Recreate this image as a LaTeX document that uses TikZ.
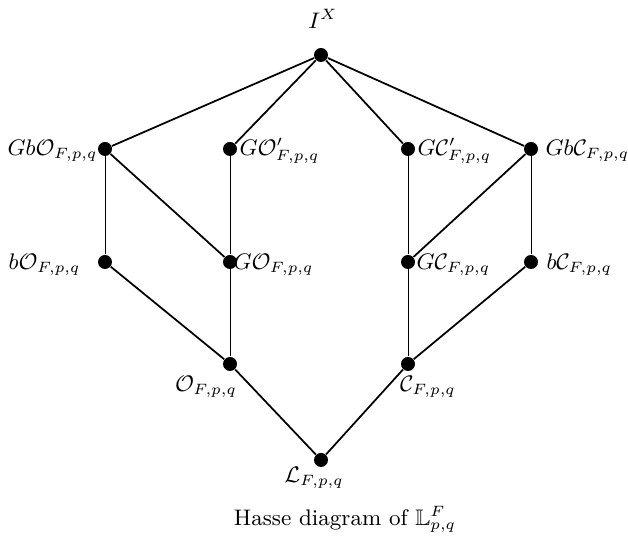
\documentclass[tikz,border=0pt]{standalone}
\usepackage{amssymb}
\begin{document}
\begin{tikzpicture}[x=0.4pt,y=-0.4pt,
  dot/.style={circle,fill=black,inner sep=0pt,minimum size=5.6pt},
  thk/.style={line width=0.7pt},
  thn/.style={line width=0.35pt},
  lab/.style={inner sep=0pt,font=\fontsize{9}{11}\selectfont}]
\useasboundingbox (0,0) rectangle (628,537);
\node[dot] (I) at (321,55) {};
\node[dot] (GbO) at (105,149) {};
\node[dot] (GOp) at (230,149) {};
\node[dot] (GCp) at (408,149) {};
\node[dot] (GbC) at (531,149) {};
\node[dot] (bO) at (105,262) {};
\node[dot] (GO) at (230,262) {};
\node[dot] (GC) at (408,262) {};
\node[dot] (bC) at (531,262) {};
\node[dot] (O) at (230,364) {};
\node[dot] (C) at (408,364) {};
\node[dot] (L) at (321,460) {};
% labels
\node[lab,anchor=base] (lI) at (323,29) {$I^X$};
\node[lab,anchor=base east] (lGbO) at (98,156) {$Gb\mathcal{O}_{F,p,q}$};
\node[lab,anchor=base west] (lGOp) at (239,156) {$G\mathcal{O}'_{F,p,q}$};
\node[lab,anchor=base west] (lGCp) at (417,156) {$G\mathcal{C}'_{F,p,q}$};
\node[lab,anchor=base west] (lGbC) at (545,156) {$Gb\mathcal{C}_{F,p,q}$};
\node[lab,anchor=base east] (lbO) at (81,270) {$b\mathcal{O}_{F,p,q}$};
\node[lab,anchor=base west] (lGO) at (233,270) {$G\mathcal{O}_{F,p,q}$};
\node[lab,anchor=base west] (lGC) at (416,270) {$G\mathcal{C}_{F,p,q}$};
\node[lab,anchor=base west] (lbC) at (546,270) {$b\mathcal{C}_{F,p,q}$};
\node[lab,anchor=base] (lO) at (206,392) {$\mathcal{O}_{F,p,q}$};
\node[lab,anchor=base] (lC) at (428,392) {$\mathcal{C}_{F,p,q}$};
\node[lab,anchor=base] (lL) at (314,483) {$\mathcal{L}_{F,p,q}$};
\node[lab,anchor=base] (cap) at (345,526) {Hasse diagram of $\mathbb{L}^F_{p,q}$};
% edges
\draw[thk] (I) -- (GbO);
\draw[thk] (I) -- (GOp);
\draw[thk] (I) -- (GCp);
\draw[thk] (I) -- (GbC);
\draw[thn] (GbO) -- (bO);
\draw[thk] (GbO) -- (GO);
\draw[thn] (GOp) -- (GO);
\draw[thn] (GO) -- (O);
\draw[thk] (bO) -- (O);
\draw[thk] (O) -- (L);
\draw[thn] (GCp) -- (GC);
\draw[thk] (GbC) -- (GC);
\draw[thn] (GbC) -- (bC);
\draw[thn] (GC) -- (C);
\draw[thk] (bC) -- (C);
\draw[thk] (C) -- (L);
\end{tikzpicture}
\end{document}
